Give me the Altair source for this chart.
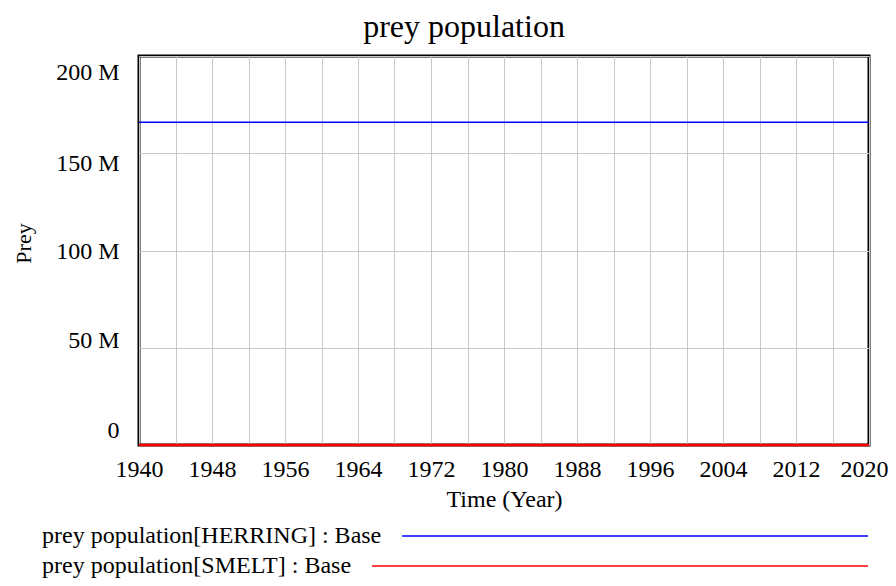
import altair as alt
import pandas as pd

# ---- data ----
chart_title = "prey population"
years = [1940, 2020]
herring = [166_000_000, 166_000_000]
smelt = [0, 0]
series_labels = ["prey population[HERRING] : Base", "prey population[SMELT] : Base"]
series_colors = ["#0000ff", "#ff0000"]
series_widths = [1.5, 2.5]
x_grid_values = [1940, 1944, 1948, 1952, 1956, 1960, 1964, 1968, 1972, 1976, 1980,
                 1984, 1988, 1992, 1996, 2000, 2004, 2008, 2012, 2016, 2020]
y_tick_values = [0, 50_000_000, 100_000_000, 150_000_000, 200_000_000]

rows = []
for y, v in zip(years, herring):
    rows.append({"Time": y, "value": v, "series": series_labels[0]})
for y, v in zip(years, smelt):
    rows.append({"Time": y, "value": v, "series": series_labels[1]})
df = pd.DataFrame(rows)

FONT = "Liberation Serif"

x_axis = alt.Axis(
    values=x_grid_values,
    labelExpr="(datum.value - 1940) % 8 == 0 ? datum.value : ''",
    format="d",
    title="Time (Year)",
    titleFont=FONT, titleFontSize=24, titleFontWeight="normal", titleColor="black",
    titleBaseline="middle", titleY=54,
    labelFont=FONT, labelFontSize=24, labelColor="black", labelPadding=12,
    labelFlush=False, labelOverlap=False, labelBound=False,
    labelOffset={"condition": [{"test": "datum.value == 2020", "value": -5}], "value": 0},
    ticks=False, domain=False,
    grid=True, gridColor="#c8c8c8", gridWidth=1,
)

y_axis = alt.Axis(
    values=y_tick_values,
    labelExpr="datum.value == 0 ? '0' : (datum.value / 1000000) + ' M'",
    title="Prey",
    titleFont=FONT, titleFontSize=22, titleFontWeight="normal", titleColor="black",
    titleAngle=270, titleAlign="center", titleBaseline="middle",
    titleX=-116, titleY=187,
    labelFont=FONT, labelFontSize=24, labelColor="black", labelPadding=20,
    labelFlush=False, labelOverlap=False,
    labelOffset={"condition": [
        {"test": "datum.value == 200000000", "value": 16},
        {"test": "datum.value == 150000000", "value": 10},
        {"test": "datum.value == 50000000", "value": -7},
        {"test": "datum.value == 0", "value": -15},
    ], "value": 1},
    ticks=False, domain=False,
    grid=True, gridColor="#c8c8c8", gridWidth=1,
)

lines = alt.Chart(df).mark_line().encode(
    x=alt.X("Time:Q", scale=alt.Scale(domain=[1940, 2020], nice=False, zero=False), axis=x_axis),
    y=alt.Y("value:Q", scale=alt.Scale(domain=[0, 200_000_000], nice=False), axis=y_axis),
    color=alt.Color("series:N", scale=alt.Scale(domain=series_labels, range=series_colors), legend=None),
    strokeWidth=alt.StrokeWidth("series:N", scale=alt.Scale(domain=series_labels, range=series_widths), legend=None),
    detail="series:N",
)

# chart title as a text mark above the plot
title_layer = alt.Chart(pd.DataFrame({"t": [chart_title]})).mark_text(
    align="center", baseline="alphabetic", font=FONT, fontSize=32, color="black"
).encode(x=alt.value(325), y=alt.value(-19), text="t:N")

# manual legend (label on the left, line sample on the right)
legend_layers = []
legend_rows_y = [480, 510]
legend_line_start = [263, 233]
for i, lab in enumerate(series_labels):
    ldf = pd.DataFrame({"label": [lab]})
    legend_layers.append(
        alt.Chart(ldf).mark_text(align="left", baseline="middle", font=FONT, fontSize=24, color="black").encode(
            x=alt.value(-97), y=alt.value(legend_rows_y[i]), text="label:N"
        )
    )
    legend_layers.append(
        alt.Chart(ldf).mark_rule(strokeWidth=1.5, color=series_colors[i]).encode(
            x=alt.value(legend_line_start[i]), x2=alt.value(729), y=alt.value(legend_rows_y[i])
        )
    )

chart = alt.layer(lines, title_layer, *legend_layers).properties(
    width=730,
    height=389,
    autosize=alt.AutoSizeParams(type="none"),
    padding={"left": 131, "top": 48, "right": 19, "bottom": 133},
).configure(
    background="white",
    view=alt.ViewConfig(stroke="black", strokeWidth=3),
)

chart.save("out.html", embed_options={"renderer": "svg", "actions": False})
